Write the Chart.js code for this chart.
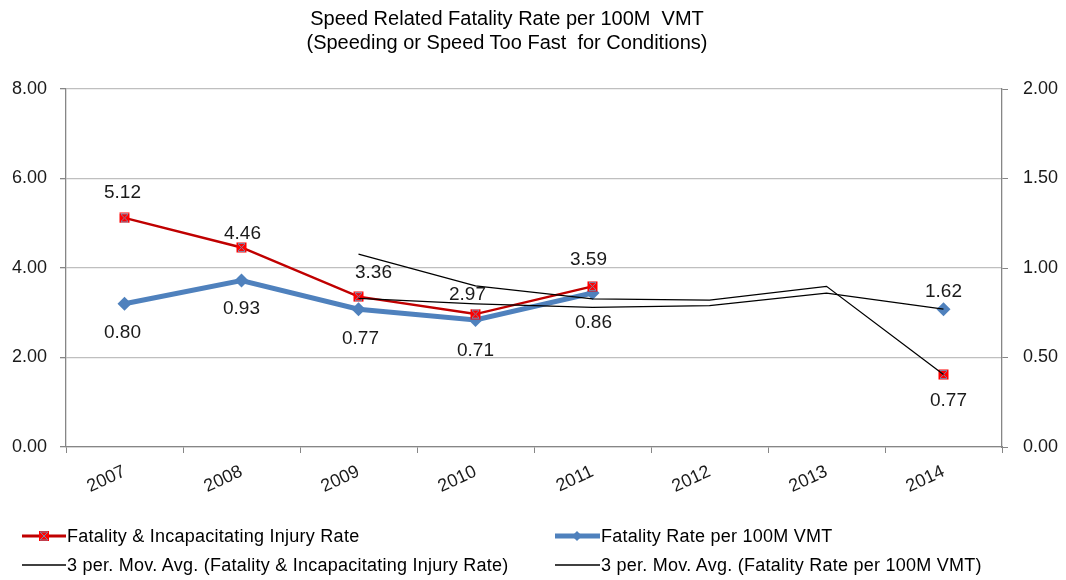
<!DOCTYPE html>
<html>
<head>
<meta charset="utf-8">
<script src="https://cdn.jsdelivr.net/npm/chart.js@4.4.0/dist/chart.umd.min.js"></script>
<style>
  body { margin: 0; background: #fff; font-family: "Liberation Sans", Arial, sans-serif; }
  #wrap { position: relative; width: 1066px; height: 580px; }
  #title { position: absolute; left: 0; top: 6px; width: 1014px; text-align: center;
           font-size: 20px; line-height: 24px; color: #000; }
  .leg { position: absolute; font-size: 18px; color: #000; white-space: nowrap;
         display: flex; align-items: center; letter-spacing: 0.25px; }
  .leg svg { margin-right: 1px; }
</style>
</head>
<body>
<div id="wrap">
  <canvas id="speedChart" width="1066" height="580"></canvas>
  <div id="title">Speed Related Fatality Rate per 100M&nbsp; VMT<br>(Speeding or Speed Too Fast&nbsp; for Conditions)</div>
  <div class="leg" style="left:22px; top:524px;">
    <svg width="44" height="24"><line x1="0" y1="12" x2="44" y2="12" stroke="#C00000" stroke-width="3"/>
      <rect x="17" y="7" width="10" height="10" fill="#FF0000"/>
      <path d="M18 8 L26 16 M26 8 L18 16 M18 8 H26 M18 16 H26" stroke="#8080A0" stroke-width="1" fill="none"/></svg>
    Fatality &amp; Incapacitating Injury Rate</div>
  <div class="leg" style="left:555px; top:524px;">
    <svg width="45" height="24"><line x1="0" y1="12" x2="45" y2="12" stroke="#4F81BD" stroke-width="5"/>
      <path d="M22 7 L27 12 L22 17 L17 12 Z" fill="#4F81BD"/></svg>
    Fatality Rate per 100M VMT</div>
  <div class="leg" style="left:22px; top:553px;">
    <svg width="44" height="24"><line x1="0" y1="12" x2="44" y2="12" stroke="#000" stroke-width="1.5"/></svg>
    3 per. Mov. Avg. (Fatality &amp; Incapacitating Injury Rate)</div>
  <div class="leg" style="left:555px; top:553px;">
    <svg width="45" height="24"><line x1="0" y1="12" x2="45" y2="12" stroke="#000" stroke-width="1.5"/></svg>
    3 per. Mov. Avg. (Fatality Rate per 100M VMT)</div>
</div>
<script>
const years = ['2007', '2008', '2009', '2010', '2011', '2012', '2013', '2014'];
const injuryRate = [5.12, 4.46, 3.36, 2.97, 3.59, null, null, 1.62];
const fatalityRate = [0.80, 0.93, 0.77, 0.71, 0.86, null, null, 0.77];
const injuryMovAvg = [null, null, 4.31, 3.60, 3.31, 3.28, 3.59, 1.62];
const fatalityMovAvg = [null, null, 0.83, 0.80, 0.78, 0.79, 0.86, 0.77];
const leftTicks = [0, 2, 4, 6, 8];
const rightTicks = [0, 0.5, 1, 1.5, 2];

// label offsets (px from the point), moved by hand in the original
const injuryLabelOffset = [[-2, -25], [1, -14], [15, -24], [-8, -19], [-4, -27], null, null, [0, -83]];
const fatalityLabelOffset = [[-2, 29], [0, 28], [2, 30], [0, 31], [1, 30], null, null, [5, 92]];

const FONT = '"Liberation Sans", Arial, sans-serif';
const AXIS_GRAY = '#868686';

// red square with the little cross Excel draws
const redMarker = document.createElement('canvas');
redMarker.width = 11; redMarker.height = 11;
(function () {
  const c = redMarker.getContext('2d');
  c.fillStyle = '#FF0000';
  c.fillRect(0.5, 0.5, 10, 10);
  c.strokeStyle = '#8080A0';
  c.lineWidth = 1;
  c.beginPath();
  c.moveTo(2, 2); c.lineTo(9, 9);
  c.moveTo(9, 2); c.lineTo(2, 9);
  c.moveTo(2, 1.5); c.lineTo(9, 1.5);
  c.moveTo(2, 9.5); c.lineTo(9, 9.5);
  c.stroke();
})();

const valueLabels = {
  id: 'valueLabels',
  afterDatasetsDraw(chart) {
    const ctx = chart.ctx;
    ctx.save();
    ctx.font = '19px ' + FONT;
    ctx.fillStyle = '#1a1a1a';
    ctx.textAlign = 'center';
    ctx.textBaseline = 'middle';
    [[0, injuryRate, injuryLabelOffset], [1, fatalityRate, fatalityLabelOffset]].forEach(([di, vals, offs]) => {
      const meta = chart.getDatasetMeta(di);
      vals.forEach((v, i) => {
        if (v === null) return;
        const p = meta.data[i];
        ctx.fillText(v.toFixed(2), p.x + offs[i][0], p.y + offs[i][1]);
      });
    });
    ctx.restore();
  }
};

const ctx = document.getElementById('speedChart').getContext('2d');
new Chart(ctx, {
  type: 'line',
  data: {
    labels: years,
    datasets: [{
      label: 'Fatality & Incapacitating Injury Rate',
      data: injuryRate,
      yAxisID: 'y',
      borderColor: '#C00000',
      borderWidth: 2.5,
      pointStyle: redMarker,
      tension: 0,
      order: 2
    }, {
      label: 'Fatality Rate per 100M VMT',
      data: fatalityRate,
      yAxisID: 'y1',
      borderColor: '#4F81BD',
      backgroundColor: '#4F81BD',
      borderWidth: 5,
      pointStyle: 'rectRot',
      pointRadius: 7,
      pointBorderWidth: 0,
      tension: 0,
      order: 3
    }, {
      label: '3 per. Mov. Avg. (Fatality & Incapacitating Injury Rate)',
      data: injuryMovAvg,
      yAxisID: 'y',
      borderColor: '#000',
      borderWidth: 1.3,
      pointRadius: 0,
      tension: 0,
      order: 1
    }, {
      label: '3 per. Mov. Avg. (Fatality Rate per 100M VMT)',
      data: fatalityMovAvg,
      yAxisID: 'y1',
      borderColor: '#000',
      borderWidth: 1.3,
      pointRadius: 0,
      tension: 0,
      order: 1
    }]
  },
  options: {
    responsive: false,
    animation: false,
    layout: { padding: { top: 89, left: 0, right: 0, bottom: 0 } },
    scales: {
      x: {
        offset: true,
        border: { color: AXIS_GRAY, width: 1.3 },
        grid: { offset: true, drawOnChartArea: false, tickLength: 6, color: AXIS_GRAY },
        ticks: { minRotation: 25, maxRotation: 25, padding: 8, color: '#1a1a1a', font: { family: FONT, size: 18 } },
        afterFit(scale) { scale.height = 133; }
      },
      y: {
        position: 'left',
        min: 0, max: 8,
        afterBuildTicks(scale) { scale.ticks = leftTicks.map(v => ({ value: v })); },
        border: { color: AXIS_GRAY, width: 1.3 },
        grid: { color: '#BFBFBF', lineWidth: 1.3, tickLength: 6, tickColor: AXIS_GRAY },
        ticks: { padding: 13, color: '#1a1a1a', font: { family: FONT, size: 18 }, callback: v => Number(v).toFixed(2) },
        afterFit(scale) { scale.width = 66; }
      },
      y1: {
        position: 'right',
        min: 0, max: 2,
        afterBuildTicks(scale) { scale.ticks = rightTicks.map(v => ({ value: v })); },
        border: { color: AXIS_GRAY, width: 1.3 },
        grid: { drawOnChartArea: false, tickLength: 6, color: AXIS_GRAY },
        ticks: { padding: 15, color: '#1a1a1a', font: { family: FONT, size: 18 }, callback: v => Number(v).toFixed(2) },
        afterFit(scale) { scale.width = 64; }
      }
    },
    plugins: {
      legend: { display: false },
      title: { display: false },
      tooltip: { enabled: false }
    }
  },
  plugins: [valueLabels]
});
</script>
</body>
</html>
